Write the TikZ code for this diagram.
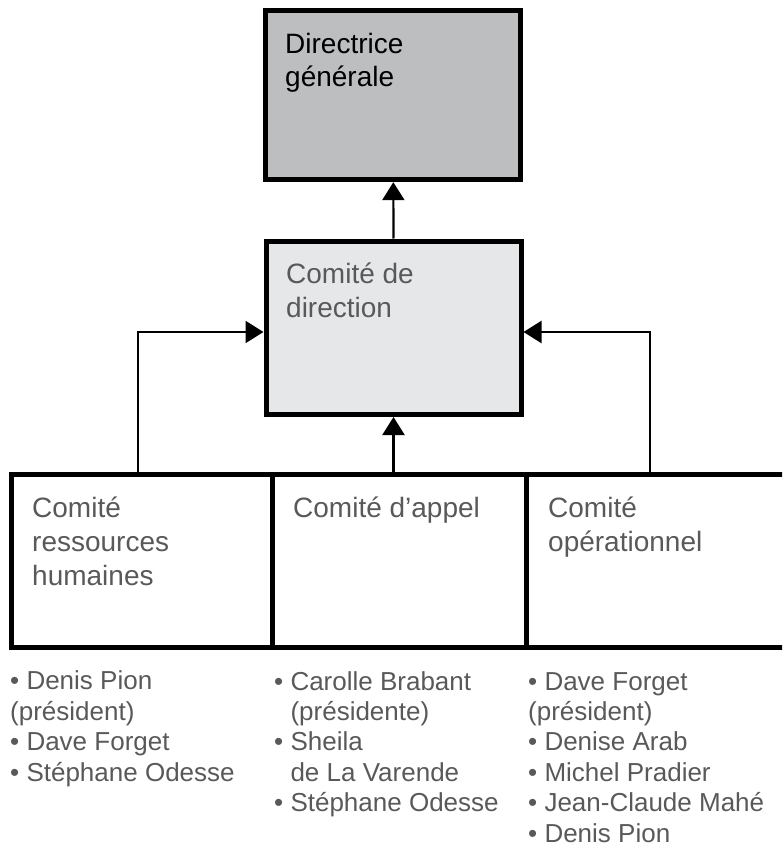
\documentclass[tikz,border=0pt]{standalone}
\usepackage{fontspec}
\setmainfont{Liberation Sans}
\usetikzlibrary{arrows.meta}
\definecolor{txtgray}{HTML}{58595B}
\definecolor{darkfill}{HTML}{BCBEC0}
\definecolor{lightfill}{HTML}{E6E7E8}
\tikzset{
  boxnode/.style={draw=black, line width=5pt, rectangle, inner sep=0pt},
  boxtext/.style={anchor=base west, inner sep=0pt, align=left, text=txtgray,
    font=\fontsize{28}{33.6}\selectfont},
  listtext/.style={anchor=base west, inner sep=0pt, align=left, text=txtgray,
    font=\fontsize{26}{30.4}\selectfont},
  arr/.style={line width=2.2pt, -{Triangle[width=22pt,length=18pt]}},
}
\newcommand{\bulletindent}{\phantom{•\ }}
\begin{document}
\begin{tikzpicture}[x=1pt,y=-1pt]
\useasboundingbox (0,0) rectangle (782,850);
\clip (0,0) rectangle (782,850);
% boxes
\node[boxnode, fill=darkfill, minimum width=255pt, minimum height=169.4pt] (top) at (393.3,95) {};
\node[boxnode, fill=lightfill, minimum width=255pt, minimum height=173.5pt] (mid) at (393.5,327.75) {};
\node[boxnode, minimum width=260.8pt, minimum height=173.5pt] (hr) at (142.1,560.75) {};
\node[boxnode, minimum width=254pt, minimum height=173.5pt] (appel) at (399.5,560.75) {};
\node[boxnode, minimum width=263.5pt, minimum height=173.5pt] (oper) at (658.25,560.75) {};
% box texts (anchored at the baseline of the last line)
\node[boxtext, text=black] (ttop) at (285,87) {Directrice\\générale};
\node[boxtext] (tmid) at (286,317) {Comité de\\direction};
\node[boxtext] (thr) at (32,585) {Comité\\ressources\\humaines};
\node[boxtext] (tappel) at (293,517) {Comité d’appel};
\node[boxtext] (toper) at (548,551) {Comité\\opérationnel};
% lists
\node[listtext] (lhr) at (10,781) {• Denis Pion\\(président)\\• Dave Forget\\• Stéphane Odesse};
\node[listtext] (lappel) at (274,811.6) {• Carolle Brabant\\\bulletindent(présidente)\\• Sheila\\\bulletindent de La Varende\\• Stéphane Odesse};
\node[listtext] (loper) at (528,842) {• Dave Forget\\(président)\\• Denise Arab\\• Michel Pradier\\• Jean-Claude Mahé\\• Denis Pion};
% connectors
\coordinate (lx) at (138,332);
\coordinate (rx) at (650,332);
\draw[arr] (mid.north) -- (top.south);
\draw[arr] (mid.south |- appel.north) -- (mid.south);
\draw[arr] (hr.north -| lx) -- (lx) -- (lx -| mid.west);
\draw[arr] (oper.north -| rx) -- (rx) -- (rx -| mid.east);
\end{tikzpicture}
\end{document}
